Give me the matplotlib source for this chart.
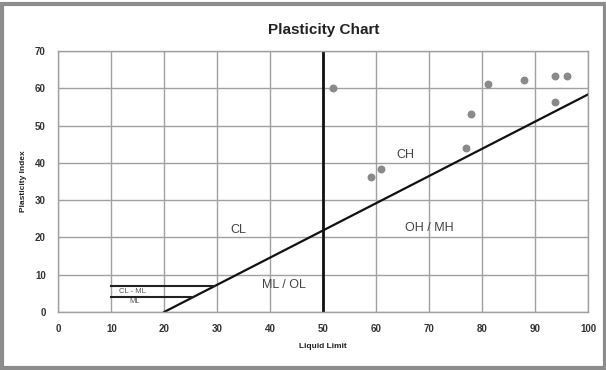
#!/usr/bin/env python3
import numpy as np
import matplotlib
matplotlib.use('Agg')
import matplotlib.pyplot as plt
from matplotlib.patches import Rectangle

plt.rcParams['font.family'] = ['Liberation Sans', 'DejaVu Sans']

# sample points (liquid limit, plasticity index)
liquid_limit = [51.8, 59.0, 60.9, 77.0, 77.9, 81.0, 87.9, 93.8, 95.9, 93.8]
plasticity_index = [60.0, 36.2, 38.3, 44.1, 53.2, 61.1, 62.3, 63.2, 63.2, 56.2]

# A-line: PI = 0.73 (LL - 20)
a_slope = 0.73
a_start = 20
a_end = 100
ll_divider = 50
cl_ml_top = 7
cl_ml_bottom = 4
cl_ml_start = 10

zone_labels = ['CL', 'ML / OL', 'CH', 'OH / MH']
zone_pos = [(34, 22), (42.5, 7.2), (65.5, 42), (70, 22.5)]

fig = plt.figure(figsize=(6.06, 3.70), dpi=100)
ax = fig.add_axes([0.0962, 0.157, 0.8746, 0.705])

# outer chart border
fig.patches.append(Rectangle((0.004, 0.006), 0.995, 0.984, transform=fig.transFigure,
                             fill=False, edgecolor='#8c8c8c', linewidth=3))

ax.set_xlim(0, 100)
ax.set_ylim(0, 70)
ax.set_xticks(np.arange(0, 101, 10))
ax.set_yticks(np.arange(0, 71, 10))
ax.grid(True, color='#a0a0a0', linewidth=1.0)
ax.set_axisbelow(True)
for s in ax.spines.values():
    s.set_color('#a0a0a0')
    s.set_linewidth(1.0)
ax.tick_params(length=0, labelsize=7, colors='#333333', pad=9)
for lab in ax.get_xticklabels() + ax.get_yticklabels():
    lab.set_fontweight('bold')

# A-line
ll_line = np.array([a_start, a_end])
ax.plot(ll_line, a_slope * (ll_line - a_start), color='#111111', linewidth=1.6)

# LL = 50 divider
ax.axvline(ll_divider, color='#111111', linewidth=2)

# CL-ML band
for pi in (cl_ml_top, cl_ml_bottom):
    ax.plot([cl_ml_start, a_start + pi / a_slope], [pi, pi], color='#222222', linewidth=1.5)

ax.scatter(liquid_limit, plasticity_index, s=22, color='#8a8a8a', zorder=3)

for lab, (x, y) in zip(zone_labels, zone_pos):
    ax.text(x, y, lab, fontsize=9, color='#444444', ha='center', va='center')
ax.text(14, 5.6, 'CL - ML', fontsize=5.5, color='#555555', ha='center', va='center')
ax.text(14.5, 2.7, 'ML', fontsize=5.5, color='#555555', ha='center', va='center')

ax.set_title('Plasticity Chart', fontsize=11, fontweight='bold', color='#222222', pad=12)
ax.set_xlabel('Liquid Limit', fontsize=6, fontweight='bold', color='#222222', labelpad=6)
ax.set_ylabel('Plasticity Index', fontsize=6, fontweight='bold', color='#222222', labelpad=6)

fig.savefig('out.png', dpi=100)
